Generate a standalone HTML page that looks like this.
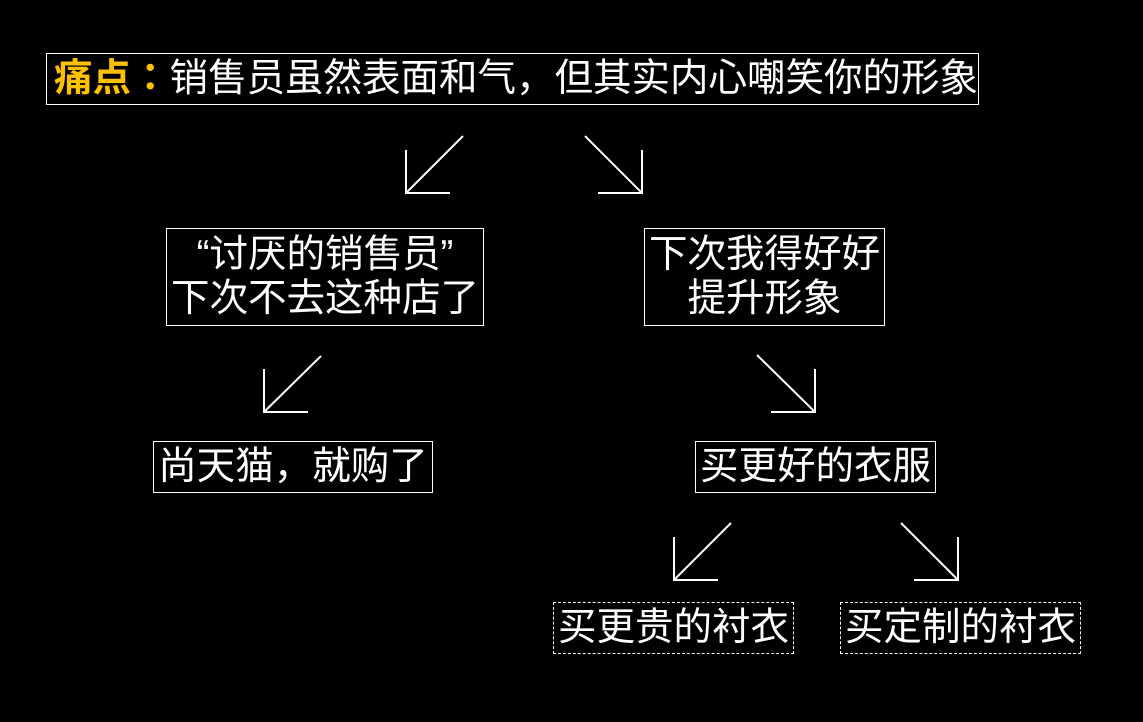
<!DOCTYPE html>
<html><head><meta charset="utf-8"><style>
html,body{margin:0;padding:0;background:#000;}
body{width:1143px;height:722px;position:relative;overflow:hidden;font-family:"Liberation Sans","Noto Sans CJK JP",sans-serif;color:#fff;}
.b{position:absolute;border:1px solid #fff;box-sizing:border-box;display:flex;align-items:center;justify-content:center;text-align:center;font-size:38.5px;line-height:44px;white-space:nowrap;}
.d{border:1px dashed #fff;}
svg{position:absolute;left:0;top:0;}
</style></head><body>
<div class="b" style="left:46px;top:53px;width:933px;height:52px;justify-content:flex-start;padding-left:7px;font-size:38.5px;"><span style="color:#ffc000;font-weight:bold;">痛点：</span>销售员虽然表面和气，但其实内心嘲笑你的形象</div>
<div class="b" style="left:166px;top:228px;width:318px;height:98px;">“讨厌的销售员”<br>下次不去这种店了</div>
<div class="b" style="left:644px;top:228px;width:241px;height:98px;">下次我得好好<br>提升形象</div>
<div class="b" style="left:153px;top:441px;width:280px;height:52px;">尚天猫，就购了</div>
<div class="b" style="left:695px;top:441px;width:241px;height:52px;">买更好的衣服</div>
<div class="b d" style="left:553px;top:602px;width:241px;height:52px;">买更贵的衬衣</div>
<div class="b d" style="left:840px;top:602px;width:241px;height:52px;">买定制的衬衣</div>
<svg width="1143" height="722" fill="none" stroke="#fff" stroke-width="2">
<path d="M463 136L406 193M406 150V193H450"/>
<path d="M585 136L642 193M642 150V193H598"/>
<path d="M321 356L264 412M264 369V412H308"/>
<path d="M757 355L815 412M815 369V412H771"/>
<path d="M731 523L674 580M674 537V580H718"/>
<path d="M901 523L958 580M958 537V580H914"/>
</svg>
</body></html>
